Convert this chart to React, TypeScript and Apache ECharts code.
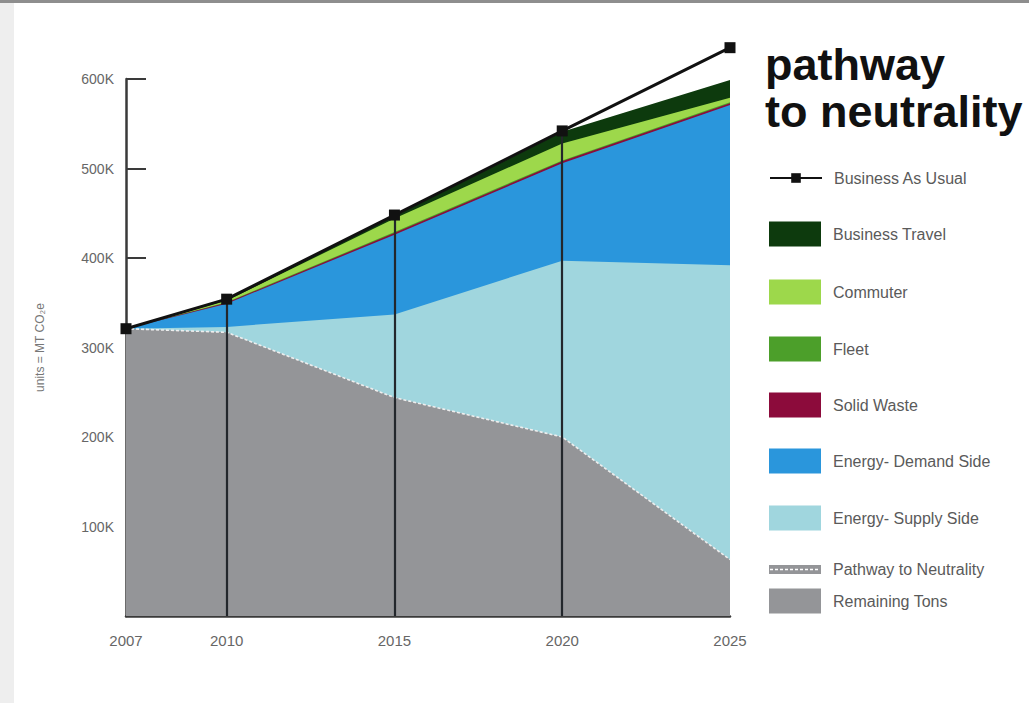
import React, { useEffect, useRef } from 'react';
import * as echarts from 'echarts';

// ---- data ----
const years = [2007, 2010, 2015, 2020, 2025];
const businessAsUsual = [321000, 354000, 448000, 542000, 635000];
const remainingTons = [321000, 317000, 244000, 200000, 63000];
const supplySide = [0, 6000, 93000, 197000, 329000];
const demandSide = [0, 26000, 89000, 109000, 179000];
const solidWaste = [0, 1000, 2000, 2000, 2000];
const fleet = [0, 500, 1000, 1000, 1000];
const commuter = [0, 2000, 15000, 19000, 5000];
const businessTravel = [0, 1000, 3000, 13000, 20000];
const yTicks = [100000, 200000, 300000, 400000, 500000, 600000];

const FONT = '"Liberation Sans", Arial, Helvetica, sans-serif';

const pathwayIconSvg =
  '<svg xmlns="http://www.w3.org/2000/svg" width="52" height="9" viewBox="0 0 52 9">' +
  '<rect x="0" y="0" width="52" height="9" fill="#949598"/>' +
  '<line x1="1" y1="4.5" x2="51" y2="4.5" stroke="#ffffff" stroke-width="1.6" stroke-dasharray="3,2"/>' +
  '</svg>';
const pathwayIcon = 'image://data:image/svg+xml;charset=utf-8,' + encodeURIComponent(pathwayIconSvg);

// bottom-to-top stacking order
const areaSeries = [
  { name: 'Remaining Tons', data: remainingTons, color: '#949598' },
  { name: 'Energy- Supply Side', data: supplySide, color: '#a0d6de' },
  { name: 'Energy- Demand Side', data: demandSide, color: '#2a96dc' },
  { name: 'Solid Waste', data: solidWaste, color: '#8c0b3b' },
  { name: 'Fleet', data: fleet, color: '#4c9f2a' },
  { name: 'Commuter', data: commuter, color: '#9dd84b' },
  { name: 'Business Travel', data: businessTravel, color: '#0d3a0d' },
];

const legendRows: { name: string; center: number; icon: string; h: number }[] = [
  { name: 'Business As Usual', center: 176, icon: '', h: 12 },
  { name: 'Business Travel', center: 234, icon: 'rect', h: 25 },
  { name: 'Commuter', center: 292, icon: 'rect', h: 25 },
  { name: 'Fleet', center: 349, icon: 'rect', h: 25 },
  { name: 'Solid Waste', center: 405, icon: 'rect', h: 25 },
  { name: 'Energy- Demand Side', center: 461, icon: 'rect', h: 25 },
  { name: 'Energy- Supply Side', center: 518, icon: 'rect', h: 25 },
  { name: 'Pathway to Neutrality', center: 566, icon: pathwayIcon, h: 9 },
  { name: 'Remaining Tons', center: 601, icon: 'rect', h: 25 },
];

export default function App() {
  const ref = useRef<HTMLDivElement>(null);

  useEffect(() => {
    if (!ref.current) return;
    const chart = echarts.init(ref.current, null, { renderer: 'svg' });

    // cumulative totals (stack computed from the component arrays)
    const running = years.map(() => 0);
    const stacked = areaSeries.map((s) => {
      const cum = s.data.map((v, i) => (running[i] += v));
      return { ...s, cum };
    });

    const series: any[] = stacked.map((s) => ({
      name: s.name,
      type: 'line',
      data: years.map((y, i) => [y, s.cum[i]]),
      showSymbol: false,
      symbol: 'none',
      clip: false,
      lineStyle: { width: 0, color: s.color },
      itemStyle: { color: s.color },
      areaStyle: { color: s.color, opacity: 1, origin: 'start' },
      z: 2,
    }));
    // draw the largest cumulative layer first so lower layers paint over it
    series.reverse();

    series.push({
      name: 'Pathway to Neutrality',
      type: 'line',
      data: years.map((y, i) => [y, remainingTons[i]]),
      symbol: 'none',
      clip: false,
      lineStyle: { color: '#eeeeee', width: 1.6, type: [3, 2] },
      itemStyle: { color: '#949598' },
      z: 3,
    });

    series.push({
      name: 'Business As Usual',
      type: 'line',
      data: years.map((y, i) => [y, businessAsUsual[i]]),
      symbol: 'rect',
      symbolSize: 11,
      clip: false,
      lineStyle: { color: '#111', width: 3 },
      itemStyle: { color: '#111' },
      z: 5,
      markLine: {
        silent: true,
        symbol: ['none', 'none'],
        label: { show: false },
        lineStyle: { color: '#23272c', width: 2.2, type: 'solid' },
        data: years.slice(1).map((y, i) => [
          { coord: [y, 0] },
          { coord: [y, businessAsUsual[i + 1]] },
        ]),
      },
    });

    const legends = legendRows.map((r) => ({
      data: [r.icon ? { name: r.name, icon: r.icon } : { name: r.name }],
      left: 769,
      top: r.center - r.h / 2,
      itemWidth: 52,
      itemHeight: r.h,
      padding: 0,
      selectedMode: false,
      textStyle: {
        fontSize: 16,
        color: '#5a5a5a',
        fontFamily: FONT,
        padding: [0, 0, 0, 7],
      },
    }));

    chart.setOption({
      animation: false,
      backgroundColor: '#ffffff',
      graphic: [
        { type: 'rect', shape: { x: 0, y: 0, width: 1029, height: 3 }, style: { fill: '#8e8e8e' }, silent: true },
        { type: 'rect', shape: { x: 0, y: 3, width: 14, height: 700 }, style: { fill: '#eeeeee' }, silent: true },
      ],
      title: {
        text: 'pathway\nto neutrality',
        left: 765,
        top: 41,
        padding: 0,
        textStyle: {
          fontSize: 45,
          fontWeight: 'bold',
          lineHeight: 47,
          color: '#111',
          fontFamily: FONT,
        },
      },
      legend: legends,
      grid: { left: 126, right: 299, top: 79, bottom: 87, containLabel: false },
      xAxis: {
        type: 'value',
        min: years[0],
        max: years[years.length - 1],
        axisLine: { show: true, lineStyle: { color: '#3a3a3a', width: 2.5 } },
        axisTick: { show: false },
        splitLine: { show: false },
        axisLabel: {
          customValues: years,
          formatter: (v: number) => String(v),
          fontSize: 15,
          color: '#666',
          fontFamily: FONT,
          margin: 17,
        },
      },
      yAxis: {
        type: 'value',
        min: 0,
        max: 600000,
        interval: 100000,
        name: 'units = MT CO\u2082e',
        nameLocation: 'middle',
        nameGap: 80,
        nameTextStyle: { fontSize: 12, color: '#777', fontFamily: FONT },
        axisLine: { show: true, lineStyle: { color: '#3a3a3a', width: 2.5 } },
        axisTick: {
          show: true,
          inside: true,
          length: 20,
          customValues: yTicks,
          lineStyle: { color: '#3a3a3a', width: 2 },
        },
        splitLine: { show: false },
        axisLabel: {
          customValues: yTicks,
          formatter: (v: number) => (v === 0 ? '' : v / 1000 + 'K'),
          fontSize: 14,
          color: '#666',
          fontFamily: FONT,
          margin: 12,
        },
      },
      series,
    });

    return () => chart.dispose();
  }, []);

  return (
    <div
      ref={ref}
      style={{ position: 'absolute', left: 0, top: 0, width: 1029, height: 703 }}
    />
  );
}
